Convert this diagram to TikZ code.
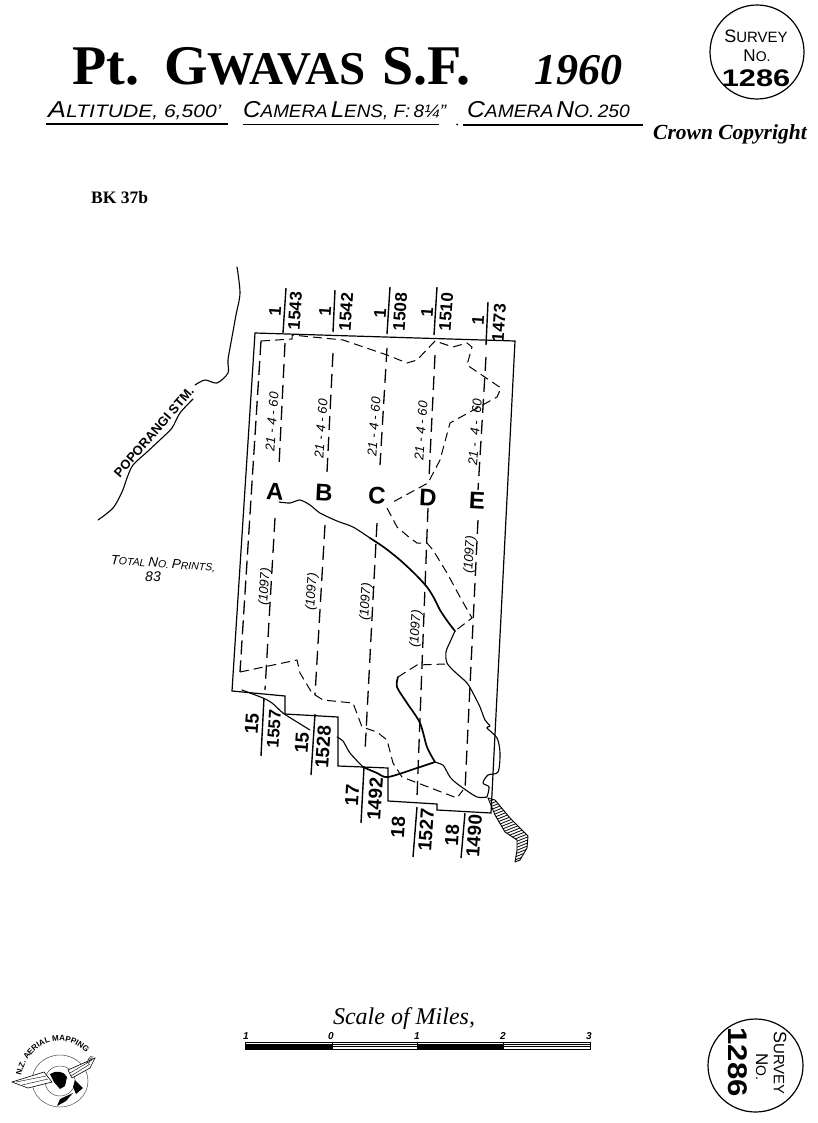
\documentclass[tikz,border=0pt]{standalone}
\usepackage{fontspec}
\usetikzlibrary{decorations.text,shapes.geometric}
\setmainfont{Liberation Serif}
\setsansfont{Liberation Sans}
\newcommand{\fs}[1]{\fontsize{#1}{#1}\selectfont}
\newcommand{\capsm}[4]{{\fs{#1}#3}{\fs{#2}#4}}
\tikzset{
  frameline/.style={line width=1.2pt,black,line join=miter},
  flight/.style={line width=1.3pt,black,dash pattern=on 14pt off 7pt},
  boundary/.style={line width=1pt,black,dash pattern=on 9pt off 5pt},
  river/.style={line width=1.1pt,black,line cap=round,line join=round},
  riverthick/.style={line width=1.7pt,black,line cap=round,line join=round},
  ttl/.style={anchor=base west,inner sep=0pt,font=\bfseries},
  hand/.style={anchor=base west,inner sep=0pt,font=\sffamily\itshape},
  numlab/.style={inner sep=0pt,font=\sffamily\bfseries\fs{17},rotate=86},
  numlabb/.style={inner sep=0pt,font=\sffamily\bfseries\fs{19},rotate=86},
  runlab/.style={inner sep=0pt,font=\sffamily\bfseries\fs{24},rotate=-3},
  datelab/.style={inner sep=0pt,font=\sffamily\itshape\fs{13},rotate=86},
  reflab/.style={inner sep=0pt,font=\sffamily\itshape\fs{13},rotate=86},
  scalelab/.style={anchor=base,inner sep=0pt,font=\sffamily\bfseries\itshape\fs{10}},
}
\begin{document}
\begin{tikzpicture}[x=1pt,y=-1pt]
\useasboundingbox (0,0) rectangle (817,1123);
\fill[white] (0,0) rectangle (817,1123);

% ---- title
\node[ttl,font=\bfseries\fs{56}] (tpt) at (72,85) {Pt.};
\node[ttl] (tg) at (164,85) {\capsm{56}{47}{G}{WAVAS}};
\node[ttl] (tsf) at (382,85) {\fs{56}S.F.};
\node[ttl,font=\bfseries\itshape\fs{44}] (tyr) at (534,85) {1960};

\node[hand] (s1) at (48,118) {\scalebox{1.17}[1]{\capsm{23}{18}{A}{LTITUDE, 6,500'}}};
\node[hand] (s2) at (243,118) {\scalebox{1.05}[1]{\capsm{23}{18}{C}{AMERA} \capsm{23}{18}{L}{ENS, F:\,8¼"}}};
\node[hand] (s3) at (467,118) {\scalebox{1.07}[1]{\capsm{23}{18}{C}{AMERA} \capsm{23}{18}{N}{O.\,250}}};
\draw[line width=1.1pt] (46,124) -- (228,124);
\draw[line width=1.1pt] (243,124.5) -- (439,124.5);
\fill (457,124.5) circle (1pt);
\draw[line width=1.1pt] (463,125) -- (643,125);

\node[ttl,font=\bfseries\itshape\fs{21.5}] (crown) at (653,140) {Crown Copyright};
\node[ttl,font=\bfseries\fs{17.5}] (bk) at (91,204) {BK 37b};

% ---- survey stamp, top
\node[draw,ellipse,line width=1.2pt,minimum width=94pt,minimum height=94pt,inner sep=0pt] (st) at (757,52) {};
\node[inner sep=0pt,font=\sffamily] (st1) at (756,36) {\capsm{18}{15}{S}{URVEY}};
\node[inner sep=0pt,font=\sffamily] (st2) at (757,56) {\capsm{17}{14}{N}{O.}};
\node[inner sep=0pt,font=\sffamily\bfseries\fs{24}] (st3) at (756,78) {\scalebox{1.28}[1]{1286}};

% ---- frame with its stepped southern edge
\draw[frameline] (255,333) -- (515,341) -- (491,813) -- (437,810) -- (437,804) -- (388,801) -- (388,768)
   -- (338,766) -- (338,717) -- (285,714) -- (285,696) -- (232,691) -- cycle;

% ---- numbers along the top
\draw[line width=1.4pt] (286,288) -- (283,333);
\draw[line width=1.4pt] (335,290) -- (333,332);
\draw[line width=1.4pt] (390,287) -- (387,334);
\draw[line width=1.4pt] (437,287) -- (434,335);
\draw[line width=1.4pt] (488,302) -- (486,345);
\node[numlab] (n1) at (295,311) {1543};
\node[numlab] (n2) at (346,312) {1542};
\node[numlab] (n3) at (400,312) {1508};
\node[numlab] (n4) at (446,312) {1510};
\node[numlab] (n5) at (499,323) {1473};
\node[numlab] (o1) at (275,311) {1};
\node[numlab] (o2) at (325,311) {1};
\node[numlab] (o3) at (380,313) {1};
\node[numlab] (o4) at (427,312) {1};
\node[numlab] (o5) at (478,320) {1};

% ---- numbers along the bottom
\draw[line width=1.4pt] (264,698) -- (261,756);
\draw[line width=1.4pt] (315,714) -- (311,775);
\draw[line width=1.4pt] (364,767) -- (361,823);
\draw[line width=1.4pt] (417,807) -- (413,857);
\draw[line width=1.4pt] (465,813) -- (461,858);
\node[numlabb] (b1a) at (252,724) {15};
\node[numlab] (b1b) at (274,729) {1557};
\node[numlabb] (b2a) at (302,743) {15};
\node[numlabb] (b2b) at (323,747) {1528};
\node[numlabb] (b3a) at (352,795) {17};
\node[numlabb] (b3b) at (375,799) {1492};
\node[numlabb] (b4a) at (398,827) {18};
\node[numlabb] (b4b) at (426,830) {1527};
\node[numlabb] (b5a) at (452,835) {18};
\node[numlabb] (b5b) at (474,836) {1490};

% ---- flight lines
\draw[flight] (285,343) -- (279,466);
\draw[flight] (275,518) -- (265,690);
\draw[flight] (333,353) -- (327,472);
\draw[flight] (325,525) -- (315,695);
\draw[flight] (387,348) -- (380,465);
\draw[flight] (377,523) -- (365,752);
\draw[flight] (435,355) -- (429,478);
\draw[flight] (428,508) -- (417,797);
\draw[flight] (486,357) -- (478,490);
\draw[flight] (478,520) -- (465,790);
\draw[flight,dash pattern=on 14pt off 6pt] (261,341) -- (240,672);

% ---- dashed boundary
\draw[boundary] (261,341) -- (292,339) -- (292,335) -- (343,340) -- (387,355) -- (407,363) -- (417,360)
  -- (435,341) -- (453,347) -- (467,343) -- (472,347) -- (467,365) -- (501,388) -- (497,397)
  -- (450,423) -- (440,460) -- (428,483) -- (393,502);
\draw[boundary] (387,508) -- (397,527) -- (410,538) -- (417,543) -- (427,543) -- (433,550) -- (447,573)
  -- (460,597) -- (472,618) -- (455,631);
\draw[boundary] (240,672) -- (297,660) -- (300,673) -- (312,693) -- (323,700) -- (353,703) -- (362,727)
  -- (377,732) -- (387,740) -- (393,763) -- (402,777) -- (457,798) -- (463,790);
\draw[boundary] (398,677) -- (417,665) -- (445,664);

% ---- rivers
\draw[river] plot[smooth,tension=.45] coordinates {(279,502) (290,503) (300,500) (310,505) (320,513) (337,521) (353,527) (370,538)};
\draw[riverthick] plot[smooth,tension=.45] coordinates {(370,538) (385,548) (400,560) (415,574) (427,587) (434,598) (440,610) (448,622) (455,631)};
\draw[river] plot[smooth,tension=.5] coordinates {(455,631) (450,642) (446,652) (447,663) (455,672) (467,683) (474,695) (480,707)
   (485,720) (490,726) (487,728) (497,738) (500,753) (498,772) (488,775) (483,783) (489,787) (487,797)};
\draw[river] plot[smooth,tension=.5] coordinates {(487,797) (477,797) (463,788) (455,782) (450,777) (445,768) (443,765) (435,762)};
\draw[riverthick] plot[smooth,tension=.5] coordinates {(435,762) (427,747) (420,723) (407,703) (397,687) (398,677)};
\draw[riverthick] plot[smooth,tension=.5] coordinates {(435,762) (417,768) (388,777) (377,773) (363,767)};
\draw[river] plot[smooth,tension=.5] coordinates {(363,767) (350,753) (343,741) (337,737)};
\draw[river] plot[smooth,tension=.5] coordinates {(310,730) (297,722) (283,713) (272,703) (263,698) (242,690)};

% ---- hatched estuary
\begin{scope}
  \clip (488,798) -- (495,800) -- (510,818) -- (517,825) -- (528,836) -- (527,848) -- (520,860) -- (515,862)
     -- (517,850) -- (517,840) -- (505,832) -- (495,815) -- cycle;
  \foreach \k in {0,3,...,90} { \draw[line width=.8pt] (480,790+\k) -- (540,790+\k-24); }
\end{scope}
\draw[line width=.9pt] (488,798) -- (495,800) -- (510,818) -- (517,825) -- (528,836) -- (527,848) -- (520,860) -- (515,862);
\draw[line width=.9pt] (488,798) -- (495,815) -- (505,832) -- (517,840) -- (517,850) -- (515,862);

% ---- stream
\draw[river] plot[smooth,tension=.5] coordinates {(237,267) (240,293) (236,315) (232,337) (228,360) (228,373) (217,383) (205,380) (195,385)};
\draw[river] plot[smooth,tension=.5] coordinates {(193,399) (180,413) (172,428) (162,438) (147,452) (133,465) (127,478) (122,492) (113,508) (98,520)};

% ---- labels
\node[inner sep=0pt,font=\sffamily\bfseries\fs{13},rotate=49] (stm) at (154,432) {POPORANGI STM.};
\node[inner sep=0pt,font=\sffamily\itshape,rotate=-4] (tot) at (163,564) {\capsm{13.5}{10.5}{T}{OTAL} \capsm{13.5}{10.5}{N}{O.} \capsm{13.5}{10.5}{P}{RINTS,}};
\node[inner sep=0pt,font=\sffamily\itshape\fs{14}] (tot2) at (153,577) {83};

\node[runlab] (la) at (275,492) {A};
\node[runlab] (lb) at (324,493) {B};
\node[runlab] (lc) at (377,496) {C};
\node[runlab] (ld) at (428,498) {D};
\node[runlab] (le) at (477,501) {E};

\node[datelab] (d1) at (272,422) {21 - 4 - 60};
\node[datelab] (d2) at (321,429) {21 - 4 - 60};
\node[datelab] (d3) at (374,427) {21 - 4 - 60};
\node[datelab] (d4) at (421,431) {21 - 4 - 60};
\node[datelab] (d5) at (475,432) {21 - \ 4 - \ 60};

\node[reflab] (r1) at (265,587) {(1097)};
\node[reflab] (r2) at (312,592) {(1097)};
\node[reflab] (r3) at (366,602) {(1097)};
\node[reflab] (r4) at (416,629) {(1097)};
\node[reflab] (r5) at (470,555) {(1097)};

% ---- scale
\node[inner sep=0pt,font=\itshape\fs{24}] (sc) at (404,1019) {Scale of Miles,};
\draw[line width=.8pt] (245,1042) rectangle (590,1049);
\draw[line width=.8pt] (245,1044.5) -- (590,1044.5);
\fill (245,1045) rectangle (332,1049.5);
\fill (417,1045) rectangle (503,1049.5);
\draw[line width=.8pt] (332,1046.5) -- (417,1046.5);
\draw[line width=.8pt] (503,1046.5) -- (590,1046.5);
\draw[line width=.8pt] (417,1042) -- (417,1049);
\draw[line width=.8pt] (332,1042) -- (332,1049);
\draw[line width=.8pt] (503,1042) -- (503,1049);
\node[scalelab] (t0) at (246,1039.5) {1};
\node[scalelab] (t1) at (331,1039.5) {0};
\node[scalelab] (t2) at (417,1039.5) {1};
\node[scalelab] (t3) at (503,1039.5) {2};
\node[scalelab] (t4) at (589,1039.5) {3};

% ---- survey stamp, bottom (turned)
\node[draw,ellipse,line width=1.2pt,minimum width=95pt,minimum height=93pt,inner sep=0pt] (sb) at (755.5,1065.5) {};
\node[inner sep=0pt,font=\sffamily,rotate=-90] (sb1) at (780,1063) {\capsm{18}{15}{S}{URVEY}};
\node[inner sep=0pt,font=\sffamily,rotate=-90] (sb2) at (762,1067) {\capsm{17}{14}{N}{O.}};
\node[inner sep=0pt,font=\sffamily\bfseries\fs{27},rotate=-90] (sb3) at (738,1062) {\scalebox{1.15}[1]{1286}};

% ---- firm's badge
\draw[line width=.5pt,black!70] (60,1081) ellipse (28 and 26);
\draw[line width=.5pt,black!70] (60,1081) circle (15);
\draw[line width=.6pt,fill=white] (12,1082) -- (44,1072) -- (52,1082) -- (28,1088) -- cycle;
\draw[line width=.4pt] (16,1082) -- (46,1076);
\draw[line width=.4pt] (22,1085) -- (48,1079);
\draw[line width=.6pt,fill=white] (95,1058) -- (68,1070) -- (72,1078) -- (90,1068) -- cycle;
\draw[line width=.4pt] (92,1060) -- (70,1073);
\draw[line width=.4pt] (90,1064) -- (71,1076);
\fill (50,1074) .. controls (56,1070) and (64,1071) .. (67,1077) -- (65,1086) -- (60,1089) -- (54,1082) -- cycle;
\fill (75,1080) -- (83,1088) -- (76,1094) -- (73,1087) -- cycle;
\fill (73,1093) -- (66,1101) -- (57,1106) -- (60,1099) -- cycle;
\path[postaction={decorate},decoration={text along path,
   text={|\sffamily\bfseries\fs{8}|N.Z. AERIAL MAPPING},text align=center}]
   (21,1077) .. controls (28,1040) and (65,1030) .. (87,1054);
\node[inner sep=0pt,font=\sffamily\bfseries\fs{4.5},rotate=60] (ltd) at (90,1060) {LTD.};
\end{tikzpicture}
\end{document}
